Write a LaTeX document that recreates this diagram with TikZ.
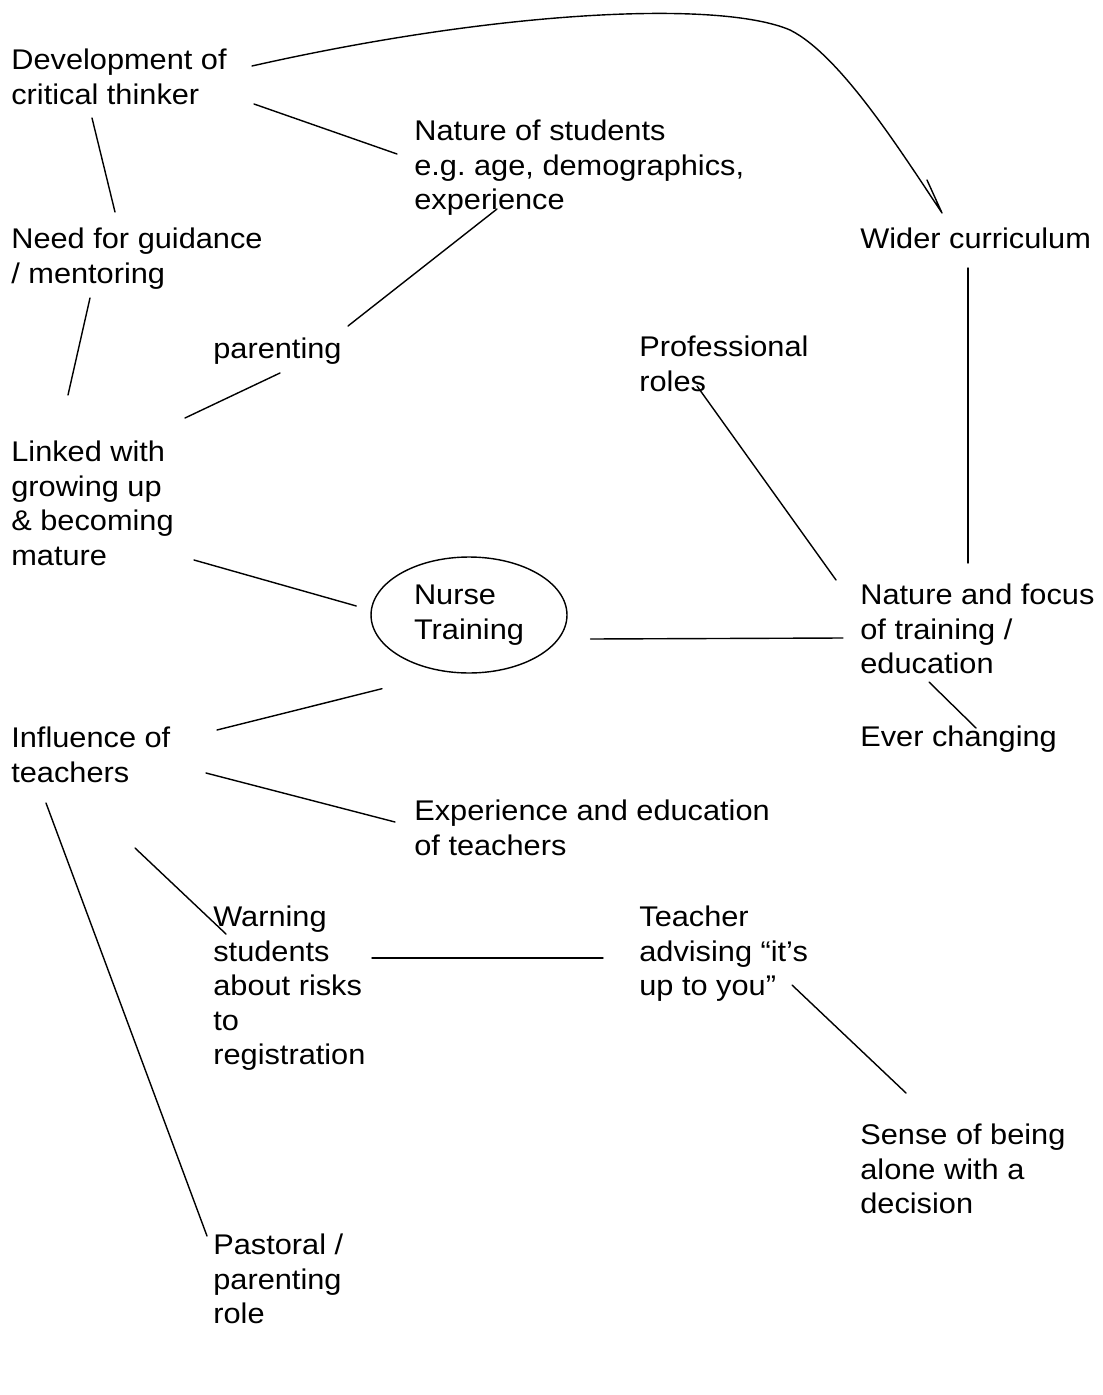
\documentclass[tikz,border=0pt]{standalone}
\usepackage{fontspec}
\setmainfont[FakeStretch=1.08]{Liberation Sans}
\usetikzlibrary{calc,shapes.geometric}
\newcommand\lblfont{\fontsize{16.2pt}{19.56pt}\selectfont\frenchspacing}
\tikzset{
  lbl/.style={anchor=north west, inner sep=0pt, align=left, font=\lblfont,
    execute at begin node=\strut},
  link/.style={draw=black, line width=0.8pt, line cap=round, line join=round},
  hub/.style={ellipse, draw=black, line width=0.8pt, inner sep=0pt,
    minimum width=3.92cm, minimum height=2.32cm, align=left, font=\lblfont}
}
\begin{document}
\begin{tikzpicture}[x=0.02cm, y=-0.02cm]
\path[use as bounding box, fill=white] (0,0) rectangle (1102,1395);

% concept labels
\node[lbl] (dev)   at (11,49)   {Development of\\critical thinker};
\node[lbl] (nat)   at (414,120) {Nature of students\\e.g. age, demographics,\\experience};
\node[lbl] (need)  at (11,228)  {Need for guidance\\/ mentoring};
\node[lbl] (wider) at (860,224) {Wider curriculum};
\node[lbl] (par)   at (213,334) {parenting};
\node[lbl] (prof)  at (639,336) {Professional\\roles};
\node[lbl] (link)  at (11,441)  {Linked with\\growing up\\\& becoming\\mature};
\node[hub] (nurse) at (469,615) {Nurse\\Training};
\node[lbl] (focus) at (860,584) {Nature and focus\\of training /\\education};
\node[lbl] (ever)  at (860,722) {Ever changing};
\node[lbl] (infl)  at (11,727)  {Influence of\\teachers};
\node[lbl] (exp)   at (414,800) {Experience and education\\of teachers};
\node[lbl] (warn)  at (213,906) {Warning\\students\\about risks\\to\\registration};
\node[lbl] (teach) at (639,906) {Teacher\\advising “it’s\\up to you”};
\node[lbl] (sense) at (860,1124) {Sense of being\\alone with a\\decision};
\node[lbl] (past)  at (213,1234) {Pastoral /\\parenting\\role};

% hand-drawn arrow from the critical thinker to the wider curriculum
\draw[link] ($(dev.north west)+(241,17)$)
  .. controls (500,10) and (720,0) .. (790,30)
  .. controls (840,55) and (900,150) .. ($(wider.north west)+(82,-11)$)
  -- ($(wider.north west)+(67,-44)$);

% plain connectors
\draw[link] ($(dev.north west)+(243,55)$) -- ($(nat.north west)+(-17,34)$);
\draw[link] ($(dev.north west)+(81,69)$) -- ($(need.north west)+(104,-16)$);
\draw[link] ($(need.north west)+(79,70)$) -- ($(link.north west)+(57,-46)$);
\draw[link] ($(link.north west)+(174,-23)$) -- ($(par.north west)+(67,39)$);
\draw[link] ($(par.north west)+(135,-8)$) -- ($(nat.north west)+(83,89)$);
\draw[link] ($(link.north west)+(183,119)$) -- ($(nurse.west)+(-14,-9)$);
\draw[link] ($(nurse.east)+(23,24)$) -- ($(focus.north west)+(-17,54)$);
\draw[link] ($(prof.north west)+(58,50)$) -- ($(focus.north west)+(-24,-4)$);
\draw[link] ($(wider.north west)+(108,44)$) -- ($(focus.north west)+(108,-21)$);
\draw[link] ($(focus.north west)+(69,98)$) -- ($(ever.north west)+(116,6)$);
\draw[link] ($(infl.north west)+(206,3)$) -- ($(nurse.south)+(-87,15)$);
\draw[link] ($(infl.north west)+(195,46)$) -- ($(exp.north west)+(-19,22)$);
\draw[link] ($(infl.north west)+(35,76)$) -- ($(past.north west)+(-6,2)$);
\draw[link] ($(infl.north west)+(124,121)$) -- ($(warn.north west)+(13,28)$);
\draw[link] ($(warn.north west)+(159,52)$) -- ($(teach.north west)+(-36,52)$);
\draw[link] ($(teach.north west)+(153,79)$) -- ($(sense.north west)+(46,-31)$);
\end{tikzpicture}
\end{document}
